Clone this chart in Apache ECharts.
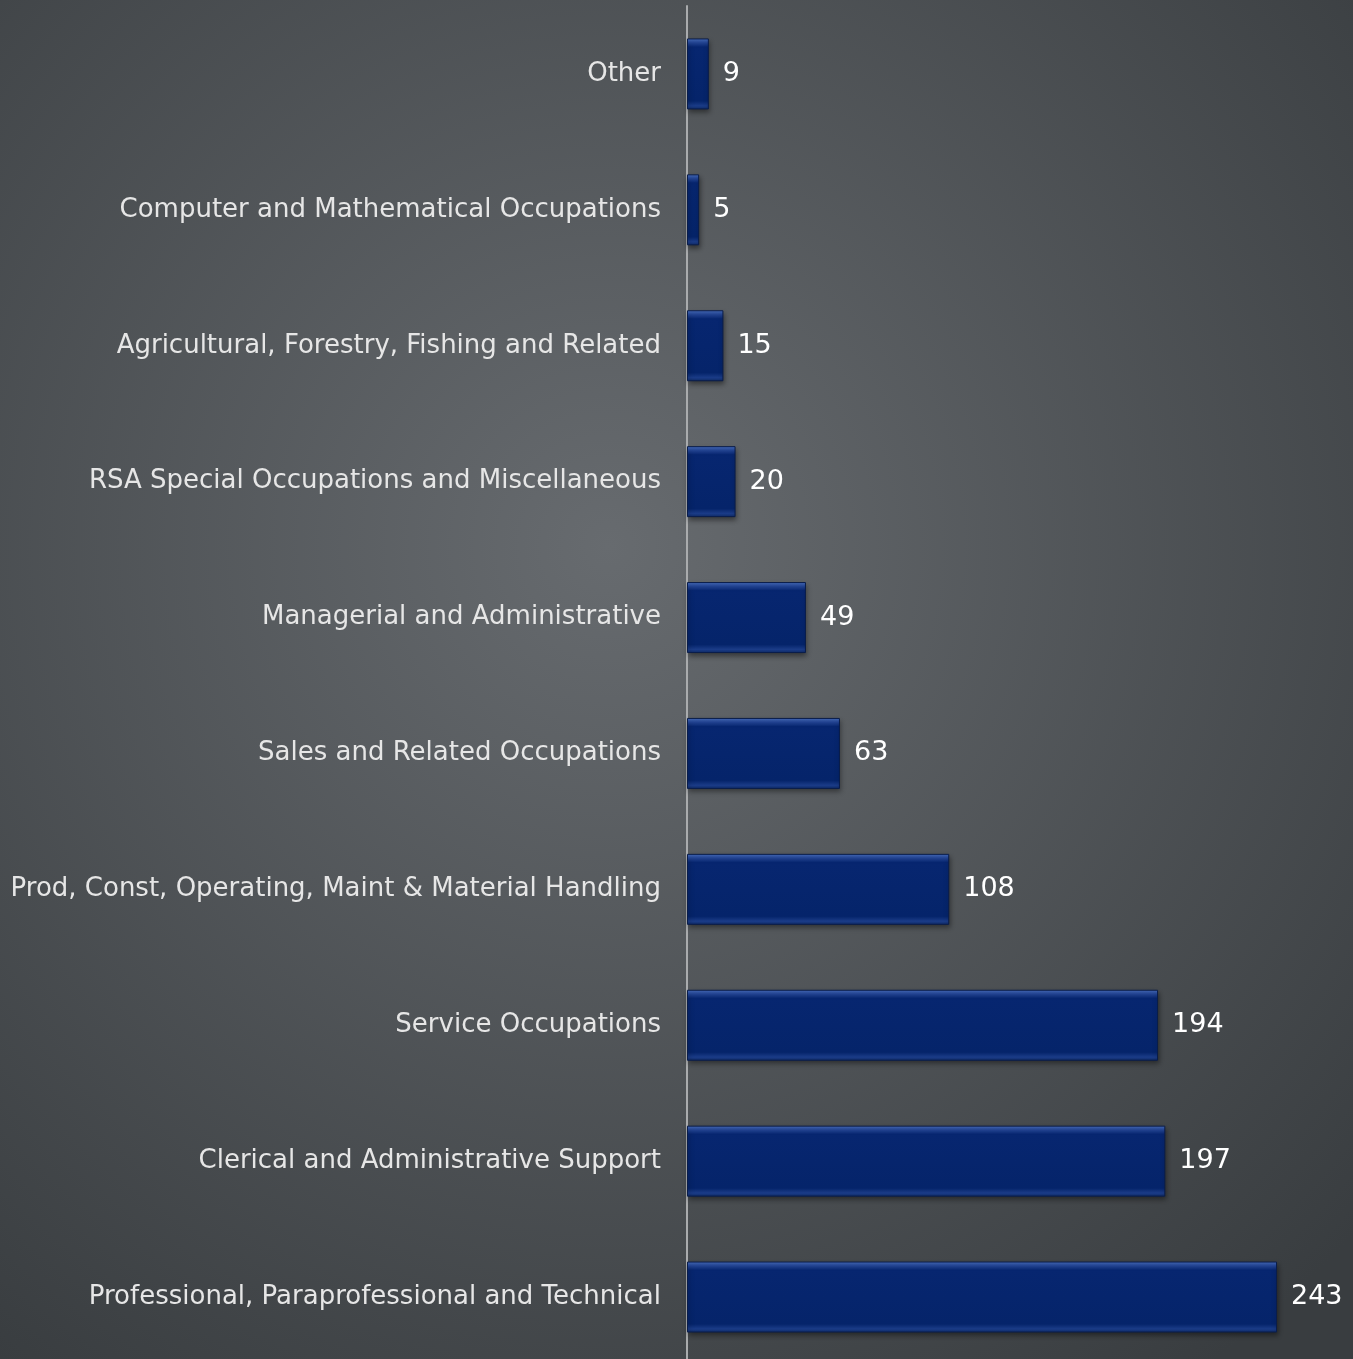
<!DOCTYPE html>
<html>
<head>
<meta charset="utf-8">
<script src="https://cdn.jsdelivr.net/npm/echarts@6/dist/echarts.min.js"></script>
<style>
  html, body { margin: 0; padding: 0; overflow: hidden; }
  #chart { width: 1353px; height: 1366px; }
</style>
</head>
<body>
<div id="chart"></div>
<script>
// categories, bottom to top (yAxis category order)
var categories = [
  'Professional, Paraprofessional and Technical',
  'Clerical and Administrative Support',
  'Service Occupations',
  'Prod, Const, Operating, Maint & Material Handling',
  'Sales and Related Occupations',
  'Managerial and Administrative',
  'RSA Special Occupations and Miscellaneous',
  'Agricultural, Forestry, Fishing and Related',
  'Computer and Mathematical Occupations',
  'Other'
];
var values = [243, 197, 194, 108, 63, 49, 20, 15, 5, 9];

var myChart = echarts.init(document.getElementById('chart'));
var option = {
  backgroundColor: {
    type: 'radial', x: 0.45, y: 0.4, r: 0.75,
    colorStops: [
      { offset: 0, color: '#676b6f' },
      { offset: 1, color: '#393d40' }
    ]
  },
  animation: false,
  // the plot runs a few px past the bottom of the window, like the original
  grid: { left: 687, right: 59, top: 6, height: 1359 },
  xAxis: {
    type: 'value', min: 0, max: 250,
    show: false
  },
  yAxis: {
    type: 'category',
    data: categories,
    axisLine: { lineStyle: { color: '#a9abad', width: 2 } },
    axisTick: { show: false },
    axisLabel: {
      color: '#e6e6e6',
      fontSize: 26,
      fontFamily: 'DejaVu Sans',
      margin: 26
    }
  },
  series: [{
    type: 'bar',
    data: values,
    barWidth: 71,
    itemStyle: {
      color: {
        type: 'linear', x: 0, y: 0, x2: 0, y2: 1,
        colorStops: [
          { offset: 0, color: '#4a70c0' },
          { offset: 0.06, color: '#24479a' },
          { offset: 0.12, color: '#072670' },
          { offset: 0.88, color: '#05246a' },
          { offset: 0.95, color: '#1b3c88' },
          { offset: 1, color: '#0e2a66' }
        ]
      },
      borderColor: '#0a1d4a',
      borderWidth: 1,
      shadowColor: 'rgba(0,0,0,0.45)',
      shadowBlur: 5,
      shadowOffsetY: 3,
      shadowOffsetX: 1
    },
    label: {
      show: true,
      position: 'right',
      distance: 14,
      color: '#ffffff',
      fontSize: 27,
      fontFamily: 'DejaVu Sans'
    }
  }]
};
myChart.setOption(option);
</script>
</body>
</html>
